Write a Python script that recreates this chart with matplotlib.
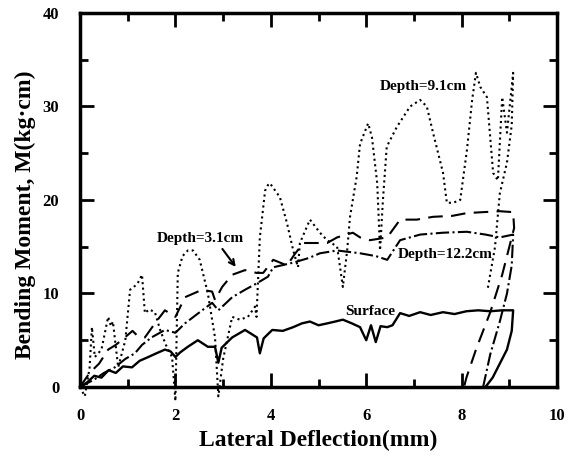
import matplotlib.pyplot as plt
from matplotlib.ticker import MultipleLocator

plt.rcParams['font.family'] = ['Liberation Serif', 'DejaVu Serif']
plt.rcParams['font.weight'] = 'bold'

# Depth = 9.1 cm (dotted)
x_d91 = [0.0, 0.1, 0.2, 0.25, 0.31, 0.45, 0.59, 0.65, 0.69, 0.8, 0.95, 1.05, 1.15, 1.21, 1.3, 1.36,
         1.45, 1.57, 1.68, 1.8, 1.93, 2.0, 2.05, 2.15, 2.26, 2.37, 2.51, 2.68, 2.83, 2.9, 3.0, 3.19,
         3.35, 3.52, 3.67, 3.7, 3.77, 3.88, 3.94, 3.98, 4.19, 4.34, 4.47, 4.57, 4.61, 4.82, 5.03,
         5.18, 5.39, 5.51, 5.6, 5.66, 5.8, 5.87, 6.04, 6.12, 6.23, 6.29, 6.35, 6.43, 6.64, 6.92,
         7.13, 7.27, 7.4, 7.61, 7.69, 7.82, 7.97, 8.11, 8.22, 8.3, 8.39, 8.53, 8.66, 8.76, 8.85,
         8.95, 9.08, 9.05, 8.95, 8.8, 8.7, 8.55]
y_d91 = [0, -1, 2, 6.4, 3.2, 4, 7.5, 6.5, 7, 2.1, 5, 10.4, 10.8, 11.1, 12, 7.9,
         8.3, 8.0, 6.1, 4.5, 3.2, -1.5, 12.2, 14, 14.6, 14.6, 13.6, 10, 5.3, -1, 3, 7.5,
         7.2, 7.5, 8.6, 7.5, 16, 21, 21.6, 21.8, 20.3, 17.5, 14.6, 12.8, 15.4, 17.9, 16.5,
         15.7, 15, 10.7, 14.6, 18.2, 22.5, 26, 28.2, 26.7, 21.8, 14.6, 20, 25.7, 27.8, 30,
         30.7, 30, 27.2, 22.9, 19.7, 19.7, 20, 25.3, 30.7, 33.6, 32.1, 31, 22.9, 22.1, 31,
         27.2, 33.6, 28, 24, 20.7, 15, 10.6]

# Depth = 3.1 cm (long dashes)
x_d31 = [0, 0.2, 0.4, 0.59, 0.75, 0.94, 1.1, 1.2, 1.36, 1.57, 1.78, 2.0, 2.2, 2.56, 2.77, 2.83,
         2.98, 3.19, 3.46, 3.7, 3.84, 4.05, 4.34, 4.5, 4.68, 4.89, 5.18, 5.39, 5.72, 5.87, 6.08,
         6.44, 6.71, 7.06, 7.4, 7.8, 8.11, 8.45, 8.8, 9.08, 9.1, 9.0, 8.85, 8.6, 8.3, 8.1, 8.05]
y_d31 = [0, 1.5, 2.5, 4, 4.5, 5.3, 6, 5.5, 5.3, 6.8, 8.2, 7.5, 9.6, 10.4, 10.2, 9.3,
         10.7, 12, 12.5, 12.2, 12.2, 13.6, 13, 14.2, 15.4, 15.4, 15.4, 16, 16.5, 16, 15.7,
         16, 17.9, 17.9, 18.2, 18.3, 18.6, 18.7, 18.8, 18.7, 17, 15, 12, 8, 4, 1, 0]

# Depth = 12.2 cm (dash-dot)
x_d122 = [0, 0.3, 0.5, 0.73, 0.95, 1.15, 1.3, 1.5, 1.78, 2.0, 2.2, 2.56, 2.77, 2.9, 3.19, 3.46,
          3.71, 3.94, 4.05, 4.47, 4.8, 5.03, 5.39, 5.87, 6.2, 6.44, 6.71, 7.13, 7.61, 8.11, 8.5,
          8.8, 9.08, 9.05, 8.95, 8.8, 8.6, 8.45]
y_d122 = [0, 0.8, 1.5, 2.1, 3, 3.6, 4.5, 5.3, 6.1, 5.8, 6.8, 8.2, 9, 8.2, 9.6, 10.4,
          11.1, 11.8, 12.8, 13.3, 13.8, 14.3, 14.6, 14.3, 14, 13.6, 15.7, 16.3, 16.5, 16.6, 16.3,
          16, 16.3, 13, 10, 7, 3.5, 0]

# Surface (solid)
x_surf = [0, 0.15, 0.3, 0.45, 0.6, 0.75, 0.9, 1.09, 1.25, 1.43, 1.6, 1.78, 1.9, 2.0, 2.1, 2.26,
          2.47, 2.68, 2.83, 2.9, 2.97, 3.19, 3.46, 3.71, 3.77, 3.85, 4.03, 4.25, 4.47, 4.65, 4.82,
          5.0, 5.18, 5.35, 5.51, 5.7, 5.87, 6.0, 6.1, 6.2, 6.3, 6.44, 6.55, 6.71, 6.9, 7.13, 7.35,
          7.61, 7.85, 8.1, 8.35, 8.6, 8.85, 9.08, 9.05, 8.95, 8.8, 8.65, 8.5]
y_surf = [0, 0.5, 1.2, 1.0, 1.8, 1.5, 2.2, 2.1, 2.8, 3.2, 3.6, 4, 3.8, 3.2, 3.7, 4.3,
          5, 4.3, 4.3, 2.6, 4.2, 5.3, 6.1, 5.3, 3.6, 5.2, 6.1, 6.0, 6.4, 6.8, 7,
          6.6, 6.8, 7.0, 7.2, 6.8, 6.4, 5.0, 6.6, 4.8, 6.5, 6.4, 6.6, 7.9, 7.6, 8, 7.7,
          8, 7.8, 8.1, 8.2, 8.1, 8.2, 8.2, 6, 4, 2.5, 1, 0]

fig = plt.figure(figsize=(5.69, 4.59), dpi=100)
ax = fig.add_axes([0.1406, 0.1569, 0.8384, 0.8148])

ax.plot(x_d91, y_d91, color='black', lw=1.5, linestyle=':', clip_on=False)
ax.plot(x_d31, y_d31, color='black', lw=1.5, linestyle=(0, (7, 4)), clip_on=False)
ax.plot(x_d122, y_d122, color='black', lw=1.5, linestyle='-.', clip_on=False)
ax.plot(x_surf, y_surf, color='black', lw=1.7, linestyle='-', clip_on=False)

lab_fs = 11
ax.text(6.29, 32.1, 'Depth=9.1cm', fontsize=lab_fs, fontweight='bold', va='center')
ax.text(1.61, 15.9, 'Depth=3.1cm', fontsize=lab_fs, fontweight='bold', va='center')
ax.text(6.67, 14.2, 'Depth=12.2cm', fontsize=lab_fs, fontweight='bold', va='center')
ax.text(5.56, 8.1, 'Surface', fontsize=lab_fs, fontweight='bold', va='center')
ax.annotate('', xy=(3.3, 12.6), xytext=(2.95, 15.0),
            arrowprops=dict(arrowstyle='->', color='black', lw=1.5))

ax.set_xlim(0, 10)
ax.set_ylim(0, 40)
ax.xaxis.set_major_locator(MultipleLocator(2))
ax.xaxis.set_minor_locator(MultipleLocator(1))
ax.yaxis.set_major_locator(MultipleLocator(10))
ax.yaxis.set_minor_locator(MultipleLocator(5))
ax.tick_params(which='both', direction='in', top=True, right=True, width=2)
ax.tick_params(which='major', length=10, labelsize=12, pad=15)
ax.tick_params(which='minor', length=6)
for lab in ax.get_xticklabels() + ax.get_yticklabels():
    lab.set_fontweight('bold')
for sp in ax.spines.values():
    sp.set_linewidth(2.5)

ax.set_xlabel('Lateral Deflection(mm)', fontsize=17, fontweight='bold', va='center')
ax.set_ylabel('Bending Moment, M(kg\u00b7cm)', fontsize=17, fontweight='bold', va='center')
ax.xaxis.set_label_coords(0.5, -0.142)
ax.yaxis.set_label_coords(-0.115, 0.46)

fig.savefig('out.png', dpi=100)
